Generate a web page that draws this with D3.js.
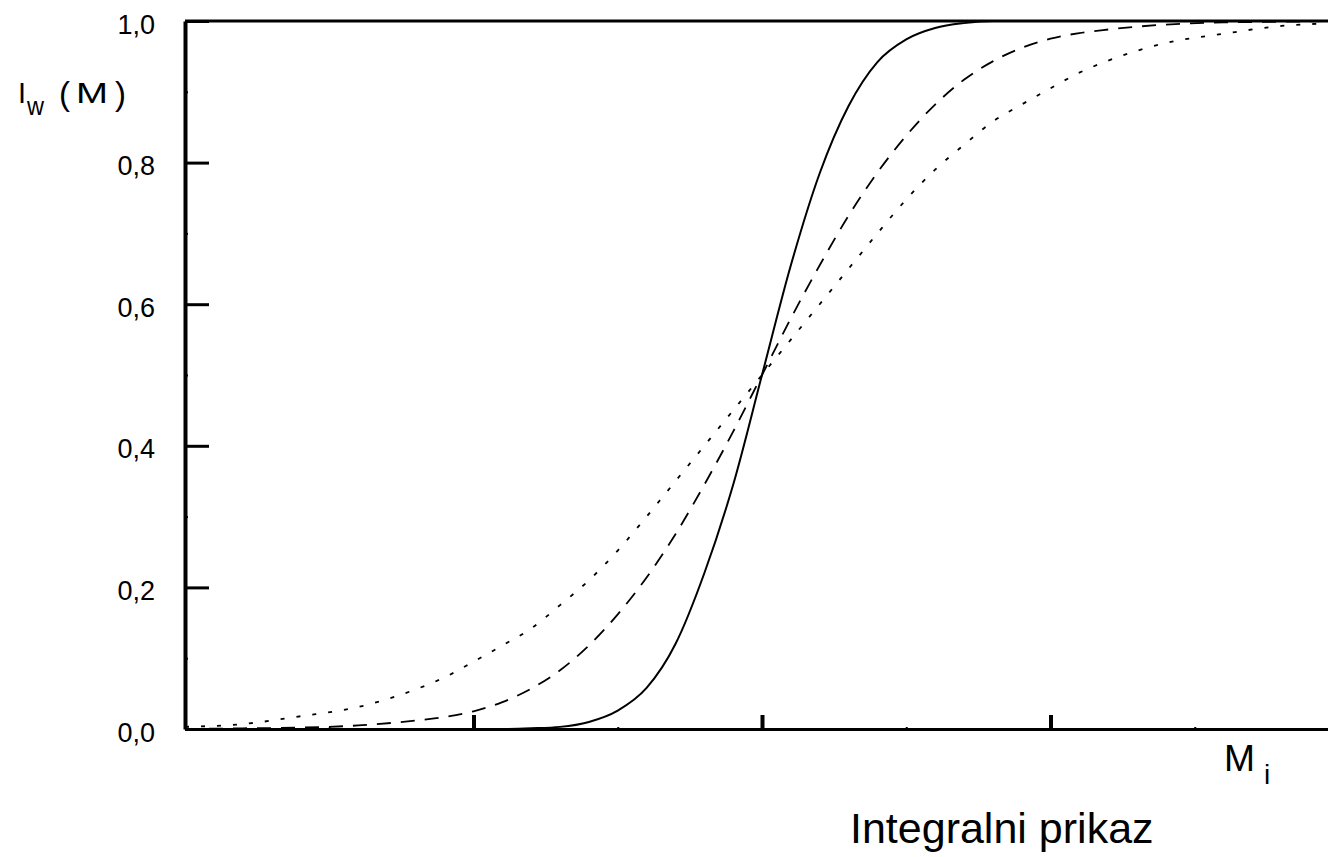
<!DOCTYPE html>
<html>
<head>
<meta charset="utf-8">
<script src="https://cdnjs.cloudflare.com/ajax/libs/d3/7.8.5/d3.min.js"></script>
<style>
  body { margin: 0; background: #fff; }
  svg { display: block; font-family: "Liberation Sans", Arial, sans-serif; }
  .axis path, .axis line { stroke: #000; }
  .axis text { fill: #000; font-size: 27px; }
</style>
</head>
<body>
<svg id="chart"></svg>
<script>
var width = 1328;
var height = 857;

// M values (axis has no numeric labels, ticks at 1, 2, 3)
var mValues = [0, 0.2, 0.4, 0.6, 0.8, 0.9, 1.0, 1.1, 1.2, 1.3, 1.4, 1.5, 1.6, 1.7, 1.8, 1.9, 2.0,
    2.1, 2.2, 2.3, 2.4, 2.5, 2.6, 2.7, 2.8, 2.9, 3.0, 3.1, 3.2, 3.4, 3.6, 3.8, 4.0];

// narrow distribution (solid)
var narrowIw = [0, 0, 0, 0, 0, 0, 0, 0, 0.001, 0.003, 0.01, 0.026, 0.058, 0.12, 0.22, 0.345, 0.5,
    0.655, 0.785, 0.88, 0.942, 0.974, 0.99, 0.997, 1, 1, 1, 1, 1, 1, 1, 1, 1];

// medium distribution (dashed)
var mediumIw = [0, 0.001, 0.002, 0.005, 0.012, 0.017, 0.025, 0.038, 0.057, 0.083, 0.118, 0.162, 0.214, 0.275, 0.345, 0.42, 0.5,
    0.58, 0.655, 0.725, 0.786, 0.838, 0.882, 0.917, 0.943, 0.962, 0.975, 0.983, 0.988, 0.995, 0.998, 0.999, 1];

// broad distribution (dotted)
var broadIw = [0.003, 0.007, 0.018, 0.031, 0.056, 0.073, 0.095, 0.118, 0.142, 0.175, 0.21, 0.252, 0.3, 0.35, 0.4, 0.45, 0.5,
    0.55, 0.6, 0.65, 0.7, 0.748, 0.79, 0.825, 0.858, 0.882, 0.905, 0.927, 0.944, 0.969, 0.982, 0.993, 0.997];

var yTicks = [0, 0.2, 0.4, 0.6, 0.8, 1.0];
var yMinorTicks = [0.1, 0.3, 0.5, 0.7, 0.9];
var xTicks = [1, 2, 3];
var xMinorTicks = [0.5, 1.5, 2.5, 3.5];

var svg = d3.select("#chart")
    .attr("width", width)
    .attr("height", height);

var x = d3.scaleLinear().domain([0, 4]).range([185, 1339]);
var y = d3.scaleLinear().domain([0, 1]).range([729, 21]);

var fmt = d3.formatLocale({decimal: ",", thousands: ".", grouping: [3], currency: ["", ""]}).format(".1f");

var series = [
    {values: narrowIw, dash: null, width: 2},
    {values: mediumIw, dash: "14,10", width: 1.8},
    {values: broadIw, dash: "4,12", width: 1.8}
];

var line = d3.line()
    .x(function(d) { return x(d[0]); })
    .y(function(d) { return y(d[1]); })
    .curve(d3.curveMonotoneX);

series.forEach(function(s) {
    svg.append("path")
        .datum(d3.zip(mValues, s.values))
        .attr("fill", "none")
        .attr("stroke", "#000")
        .attr("stroke-width", s.width)
        .attr("stroke-dasharray", s.dash)
        .attr("d", line);
});

// top frame line
svg.append("line")
    .attr("x1", x(0)).attr("x2", width)
    .attr("y1", y(1)).attr("y2", y(1))
    .attr("stroke", "#000")
    .attr("stroke-width", 3);

// y axis
var yAxis = svg.append("g")
    .attr("class", "axis")
    .attr("transform", "translate(" + x(0) + ",0)")
    .call(d3.axisLeft(y).tickValues(yTicks).tickFormat(fmt)
        .tickSizeInner(-24).tickSizeOuter(0).tickPadding(30));
yAxis.select(".domain").attr("stroke-width", 4);
yAxis.selectAll(".tick line").attr("stroke-width", 3);
yAxis.selectAll(".tick text").attr("dy", "0.45em");

svg.append("g")
    .attr("class", "axis")
    .attr("transform", "translate(" + x(0) + ",0)")
    .call(d3.axisLeft(y).tickValues(yMinorTicks).tickFormat("")
        .tickSizeInner(-3).tickSizeOuter(0))
    .call(function(g) { g.select(".domain").remove(); })
    .selectAll(".tick line").attr("stroke-width", 2);

// x axis
var xAxis = svg.append("g")
    .attr("class", "axis")
    .attr("transform", "translate(0," + y(0) + ")")
    .call(d3.axisBottom(x).tickValues(xTicks).tickFormat("")
        .tickSizeInner(-14).tickSizeOuter(0));
xAxis.select(".domain").attr("stroke-width", 3);
xAxis.selectAll(".tick line").attr("stroke-width", 4);

svg.append("g")
    .attr("class", "axis")
    .attr("transform", "translate(0," + y(0) + ")")
    .call(d3.axisBottom(x).tickValues(xMinorTicks).tickFormat("")
        .tickSizeInner(-2).tickSizeOuter(0))
    .call(function(g) { g.select(".domain").remove(); })
    .selectAll(".tick line").attr("stroke-width", 2);

// y label  I_w ( M )
var yLabelParts = [
    {t: "I", x: 18, y: 103, size: 29, len: null},
    {t: "w", x: 27, y: 115, size: 26, len: 17},
    {t: "(", x: 59, y: 105, size: 33, len: null},
    {t: "M", x: 76, y: 103, size: 29, len: 32},
    {t: ")", x: 115, y: 105, size: 33, len: null}
];
yLabelParts.forEach(function(p) {
    var t = svg.append("text")
        .attr("x", p.x)
        .attr("y", p.y)
        .attr("font-size", p.size)
        .attr("fill", "#000")
        .text(p.t);
    if (p.len) t.attr("textLength", p.len).attr("lengthAdjust", "spacingAndGlyphs");
});

// x label  M_i
svg.append("text")
    .attr("x", 1224).attr("y", 771)
    .attr("font-size", 37).attr("fill", "#000")
    .attr("textLength", 31).attr("lengthAdjust", "spacingAndGlyphs")
    .text("M");
svg.append("text")
    .attr("x", 1264).attr("y", 784)
    .attr("font-size", 28).attr("fill", "#000")
    .text("i");

svg.append("text")
    .attr("x", 850)
    .attr("y", 843)
    .attr("font-size", 43)
    .attr("fill", "#000")
    .text("Integralni prikaz");
</script>
</body>
</html>
